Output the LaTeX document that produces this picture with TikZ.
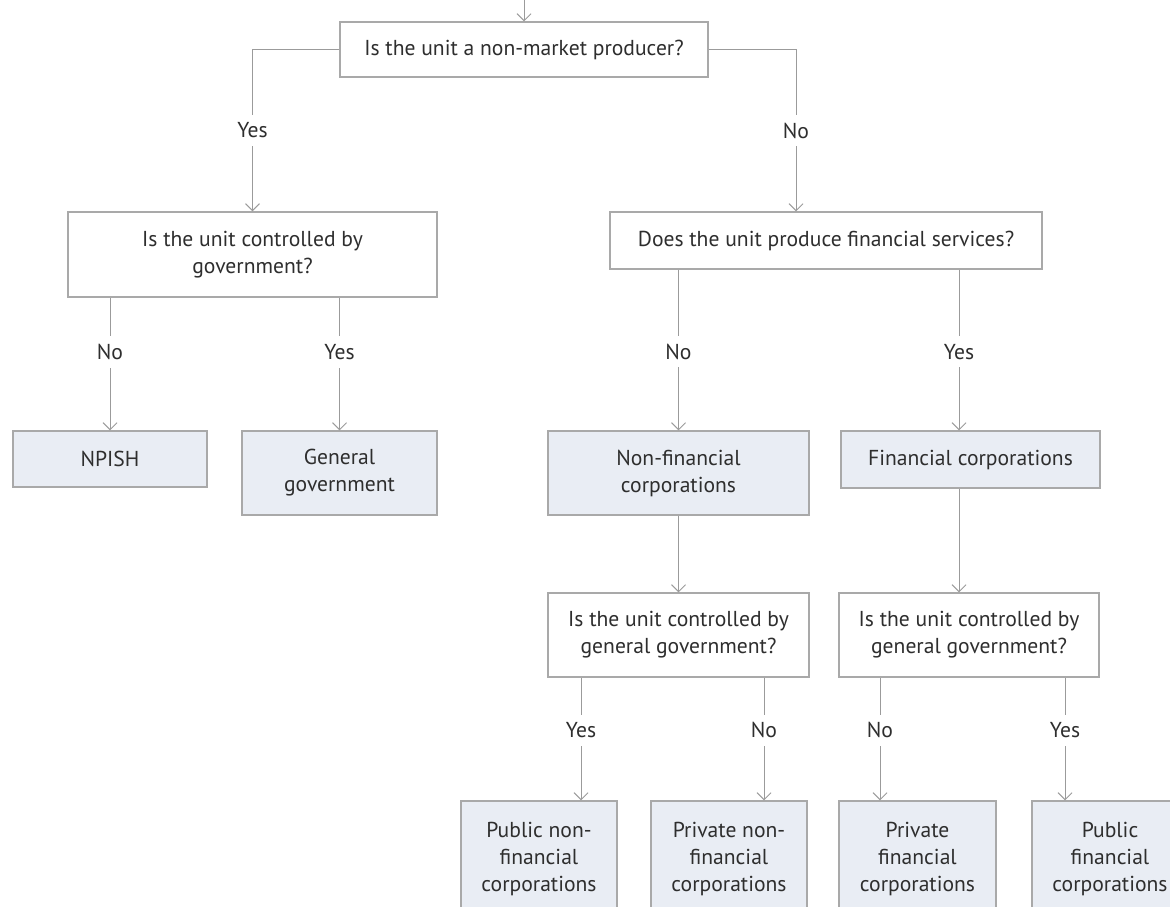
\documentclass[tikz,border=0pt]{standalone}
\usepackage{fontspec}
\setmainfont{PT Sans}
\usepackage{xcolor}
\usetikzlibrary{positioning,arrows.meta}
\definecolor{linegray}{HTML}{9B9B9B}
\definecolor{boxgray}{HTML}{A9A9A9}
\definecolor{catfill}{HTML}{E9EDF4}
\definecolor{txtgray}{HTML}{2E2E2E}

\begin{document}
\begin{tikzpicture}[
  x=0.5pt, y=-0.5pt,
  qbox/.style={draw=boxgray, line width=0.6pt, fill=white, inner sep=0pt,
               align=center, text=txtgray, font=\fontsize{10.8}{13.5}\selectfont},
  catbox/.style={qbox, fill=catfill},
  arr/.style={draw=linegray, line width=0.5pt,
              -{Straight Barb[length=3.5pt,width=7pt]}},
  lab/.style={fill=white, inner xsep=2pt, inner ysep=4pt, text=txtgray,
              font=\fontsize{10.8}{13.5}\selectfont},
]
\clip (0,0) rectangle (1170,906);

% questions
\node[qbox, minimum width=184pt, minimum height=27.5pt] (market) at (524,49.5)
  {Is the unit a non-market producer?};
\node[qbox, minimum width=184.5pt, minimum height=42.5pt] (ctrlgov) at (252.5,254.5)
  {Is the unit controlled by\\government?};
\node[qbox, minimum width=216pt, minimum height=28.5pt] (finserv) at (826,240.5)
  {Does the unit produce financial services?};
\node[qbox, minimum width=130.5pt, minimum height=42pt] (ctrlnonfin) at (678.5,635)
  {Is the unit controlled by\\general government?};
\node[qbox, minimum width=130pt, minimum height=42pt] (ctrlfin) at (969,635)
  {Is the unit controlled by\\general government?};

% sectors
\node[catbox, minimum width=97pt, minimum height=28pt] (npish) at (110,459) {NPISH};
\node[catbox, minimum width=97.5pt, minimum height=42pt] (gengov) at (339.5,473)
  {General\\government};
\node[catbox, minimum width=130.5pt, minimum height=42pt] (nonfin) at (678.5,473)
  {Non-financial\\corporations};
\node[catbox, minimum width=129.5pt, minimum height=28.5pt] (fin) at (970.5,459.5)
  {Financial corporations};
\node[catbox, minimum width=78pt, minimum height=58pt] (pubnonfin) at (539,859)
  {Public non-\\financial\\corporations};
\node[catbox, minimum width=78pt, minimum height=58pt] (privnonfin) at (729,859)
  {Private non-\\financial\\corporations};
\node[catbox, minimum width=78.5pt, minimum height=58pt] (privfin) at (917.5,859)
  {Private\\financial\\corporations};
\node[catbox, minimum width=78pt, minimum height=58pt] (pubfin) at (1110,859)
  {Public\\financial\\corporations};

\coordinate (entry) at (524,0);
\coordinate (noarr) at ([xshift=-15pt]finserv.north);
\coordinate (finx) at ([xshift=-5.75pt]fin.south);
\coordinate (pubnonfinx) at ([xshift=21pt]pubnonfin.north);
\coordinate (privnonfinx) at ([xshift=17.5pt]privnonfin.north);
\coordinate (privfinx) at ([xshift=-18.75pt]privfin.north);
\coordinate (pubfinx) at ([xshift=-22.5pt]pubfin.north);

\draw[arr] (entry) -- (market);
\draw[arr] (market.west) -| node[lab, pos=.75] {Yes} (ctrlgov.north);
\draw[arr] (market.east) -| node[lab, pos=.75] {No} (noarr);
\draw[arr] (ctrlgov.south -| npish.north) -- node[lab, pos=.41] {No} (npish.north);
\draw[arr] (ctrlgov.south -| gengov.north) -- node[lab, pos=.41] {Yes} (gengov.north);
\draw[arr] (finserv.south -| nonfin.north) -- node[lab, pos=.51] {No} (nonfin.north);
\draw[arr] (finserv.south -| finx) -- node[lab, pos=.51] {Yes} (finx |- fin.north);
\draw[arr] (nonfin) -- (ctrlnonfin);
\draw[arr] (finx) -- (finx |- ctrlfin.north);
\draw[arr] (ctrlnonfin.south -| pubnonfinx) -- node[lab, pos=.43] {Yes} (pubnonfinx);
\draw[arr] (ctrlnonfin.south -| privnonfinx) -- node[lab, pos=.43] {No} (privnonfinx);
\draw[arr] (ctrlfin.south -| privfinx) -- node[lab, pos=.43] {No} (privfinx);
\draw[arr] (ctrlfin.south -| pubfinx) -- node[lab, pos=.43] {Yes} (pubfinx);
\end{tikzpicture}
\end{document}
